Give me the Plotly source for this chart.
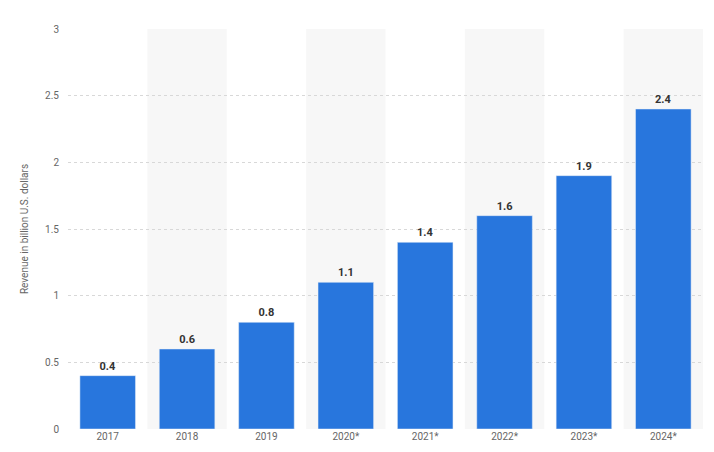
import plotly.graph_objects as go

years = ["2017", "2018", "2019", "2020*", "2021*", "2022*", "2023*", "2024*"]
revenue = [0.4, 0.6, 0.8, 1.1, 1.4, 1.6, 1.9, 2.4]
labels = ["0.4", "0.6", "0.8", "1.1", "1.4", "1.6", "1.9", "2.4"]

fig = go.Figure(go.Bar(
    x=list(range(len(years))), y=revenue,
    marker_color="#2876dd",
    text=labels, textposition="outside",
    textfont=dict(family="Roboto", size=11, color="#333333", weight="bold"),
    cliponaxis=False,
))

# alternating background bands
for i in range(1, len(years), 2):
    fig.add_shape(type="rect", xref="x", yref="paper", x0=i - 0.5, x1=i + 0.5,
                  y0=0, y1=1, fillcolor="#f7f7f7", line_width=0, layer="below")

# page has an 8px body margin, so the figure is a bit smaller than the window
fig.update_layout(
    width=706, height=444,
    margin=dict(l=60, r=11, t=21, b=23),
    plot_bgcolor="white", paper_bgcolor="white",
    bargap=0.3, showlegend=False,
    font=dict(family="Roboto", size=10, color="#666666"),
    xaxis=dict(tickmode="array", tickvals=list(range(len(years))), ticktext=years,
               range=[-0.5, len(years) - 0.5], showgrid=False, zeroline=False,
               showline=False, ticks=""),
    yaxis=dict(range=[0, 3], dtick=0.5, showgrid=True, gridcolor="#d8d8d8",
               griddash="dot", zeroline=False, ticks="", ticklabelstandoff=8,
               title=dict(text="Revenue in billion U.S. dollars", standoff=14,
                          font=dict(size=10))),
)

fig.write_html("out.html")
